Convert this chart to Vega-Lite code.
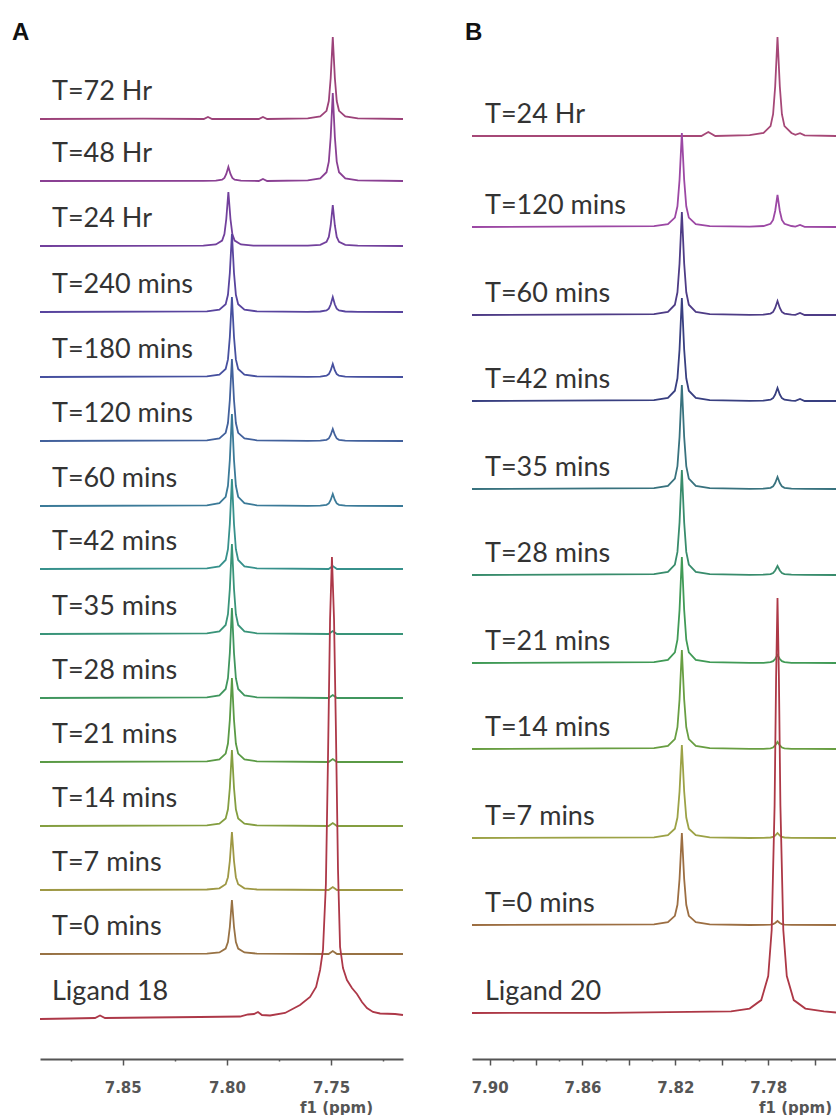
{
"$schema": "https://vega.github.io/schema/vega-lite/v6.json",
"background": "white",
"padding": {"left": 12, "top": 21, "right": 0, "bottom": 0},
"spacing": 69,
"bounds": "flush",
"config": {"view": {"stroke": null}},
"resolve": {"scale": {"x": "independent", "y": "independent", "color": "independent"}},
"datasets": {
"A": [
{"t":"T=72 Hr","x":7.8897,"y":940},{"t":"T=72 Hr","x":7.8400,"y":940.3},{"t":"T=72 Hr","x":7.8111,"y":940},{"t":"T=72 Hr","x":7.8091,"y":942},{"t":"T=72 Hr","x":7.8071,"y":940},{"t":"T=72 Hr","x":7.7847,"y":940},{"t":"T=72 Hr","x":7.7827,"y":942},{"t":"T=72 Hr","x":7.7807,"y":940},
{"t":"T=72 Hr","x":7.7612,"y":940.7},{"t":"T=72 Hr","x":7.7552,"y":942.5},{"t":"T=72 Hr","x":7.7522,"y":948.2},{"t":"T=72 Hr","x":7.7511,"y":958},{"t":"T=72 Hr","x":7.7502,"y":981},{"t":"T=72 Hr","x":7.7492,"y":1022},{"t":"T=72 Hr","x":7.7482,"y":981},{"t":"T=72 Hr","x":7.7473,"y":958},{"t":"T=72 Hr","x":7.7462,"y":948.2},{"t":"T=72 Hr","x":7.7432,"y":942.5},{"t":"T=72 Hr","x":7.7372,"y":940.7},{"t":"T=72 Hr","x":7.7155,"y":940},

{"t":"T=48 Hr","x":7.8897,"y":878},{"t":"T=48 Hr","x":7.8113,"y":878.1},{"t":"T=48 Hr","x":7.8053,"y":878.4},{"t":"T=48 Hr","x":7.8023,"y":879.4},{"t":"T=48 Hr","x":7.8012,"y":881.1},{"t":"T=48 Hr","x":7.8003,"y":885},{"t":"T=48 Hr","x":7.7993,"y":892},{"t":"T=48 Hr","x":7.7983,"y":885},{"t":"T=48 Hr","x":7.7974,"y":881.1},{"t":"T=48 Hr","x":7.7963,"y":879.4},{"t":"T=48 Hr","x":7.7933,"y":878.4},{"t":"T=48 Hr","x":7.7873,"y":878.1},{"t":"T=48 Hr","x":7.7847,"y":878},{"t":"T=48 Hr","x":7.7827,"y":880},{"t":"T=48 Hr","x":7.7807,"y":878},
{"t":"T=48 Hr","x":7.7612,"y":878.7},{"t":"T=48 Hr","x":7.7552,"y":880.6},{"t":"T=48 Hr","x":7.7522,"y":886.8},{"t":"T=48 Hr","x":7.7511,"y":897.4},{"t":"T=48 Hr","x":7.7502,"y":922},{"t":"T=48 Hr","x":7.7492,"y":966},{"t":"T=48 Hr","x":7.7482,"y":922},{"t":"T=48 Hr","x":7.7473,"y":897.4},{"t":"T=48 Hr","x":7.7462,"y":886.8},{"t":"T=48 Hr","x":7.7432,"y":880.6},{"t":"T=48 Hr","x":7.7372,"y":878.7},{"t":"T=48 Hr","x":7.7155,"y":878},

{"t":"T=24 Hr","x":7.8897,"y":813},{"t":"T=24 Hr","x":7.8113,"y":813.4},{"t":"T=24 Hr","x":7.8053,"y":814.6},{"t":"T=24 Hr","x":7.8023,"y":818.4},{"t":"T=24 Hr","x":7.8012,"y":824.9},{"t":"T=24 Hr","x":7.8003,"y":840},{"t":"T=24 Hr","x":7.7993,"y":867},{"t":"T=24 Hr","x":7.7983,"y":840},{"t":"T=24 Hr","x":7.7974,"y":824.9},{"t":"T=24 Hr","x":7.7963,"y":818.4},{"t":"T=24 Hr","x":7.7933,"y":814.6},{"t":"T=24 Hr","x":7.7873,"y":813.4},
{"t":"T=24 Hr","x":7.7612,"y":813.3},{"t":"T=24 Hr","x":7.7552,"y":814.2},{"t":"T=24 Hr","x":7.7522,"y":817.1},{"t":"T=24 Hr","x":7.7511,"y":822},{"t":"T=24 Hr","x":7.7502,"y":833.5},{"t":"T=24 Hr","x":7.7492,"y":854},{"t":"T=24 Hr","x":7.7482,"y":833.5},{"t":"T=24 Hr","x":7.7473,"y":822},{"t":"T=24 Hr","x":7.7462,"y":817.1},{"t":"T=24 Hr","x":7.7432,"y":814.2},{"t":"T=24 Hr","x":7.7372,"y":813.3},{"t":"T=24 Hr","x":7.7155,"y":813},

{"t":"T=240 mins","x":7.8897,"y":747},{"t":"T=240 mins","x":7.8096,"y":747.6},{"t":"T=240 mins","x":7.8036,"y":749.3},{"t":"T=240 mins","x":7.8006,"y":754.8},{"t":"T=240 mins","x":7.7995,"y":764.2},{"t":"T=240 mins","x":7.7986,"y":786},{"t":"T=240 mins","x":7.7976,"y":825},{"t":"T=240 mins","x":7.7966,"y":786},{"t":"T=240 mins","x":7.7957,"y":764.2},{"t":"T=240 mins","x":7.7946,"y":754.8},{"t":"T=240 mins","x":7.7916,"y":749.3},{"t":"T=240 mins","x":7.7856,"y":747.6},
{"t":"T=240 mins","x":7.7612,"y":747.1},{"t":"T=240 mins","x":7.7552,"y":747.5},{"t":"T=240 mins","x":7.7522,"y":748.5},{"t":"T=240 mins","x":7.7511,"y":750.3},{"t":"T=240 mins","x":7.7502,"y":754.5},{"t":"T=240 mins","x":7.7492,"y":762},{"t":"T=240 mins","x":7.7482,"y":754.5},{"t":"T=240 mins","x":7.7473,"y":750.3},{"t":"T=240 mins","x":7.7462,"y":748.5},{"t":"T=240 mins","x":7.7432,"y":747.5},{"t":"T=240 mins","x":7.7372,"y":747.1},{"t":"T=240 mins","x":7.7155,"y":747},

{"t":"T=180 mins","x":7.8897,"y":682},{"t":"T=180 mins","x":7.8096,"y":682.6},{"t":"T=180 mins","x":7.8036,"y":684.4},{"t":"T=180 mins","x":7.8006,"y":690},{"t":"T=180 mins","x":7.7995,"y":699.6},{"t":"T=180 mins","x":7.7986,"y":722},{"t":"T=180 mins","x":7.7976,"y":762},{"t":"T=180 mins","x":7.7966,"y":722},{"t":"T=180 mins","x":7.7957,"y":699.6},{"t":"T=180 mins","x":7.7946,"y":690},{"t":"T=180 mins","x":7.7916,"y":684.4},{"t":"T=180 mins","x":7.7856,"y":682.6},
{"t":"T=180 mins","x":7.7612,"y":682.1},{"t":"T=180 mins","x":7.7552,"y":682.4},{"t":"T=180 mins","x":7.7522,"y":683.3},{"t":"T=180 mins","x":7.7511,"y":684.9},{"t":"T=180 mins","x":7.7502,"y":688.5},{"t":"T=180 mins","x":7.7492,"y":695},{"t":"T=180 mins","x":7.7482,"y":688.5},{"t":"T=180 mins","x":7.7473,"y":684.9},{"t":"T=180 mins","x":7.7462,"y":683.3},{"t":"T=180 mins","x":7.7432,"y":682.4},{"t":"T=180 mins","x":7.7372,"y":682.1},{"t":"T=180 mins","x":7.7155,"y":682},

{"t":"T=120 mins","x":7.8897,"y":618},{"t":"T=120 mins","x":7.8096,"y":618.7},{"t":"T=120 mins","x":7.8036,"y":620.5},{"t":"T=120 mins","x":7.8006,"y":626.2},{"t":"T=120 mins","x":7.7995,"y":636},{"t":"T=120 mins","x":7.7986,"y":659},{"t":"T=120 mins","x":7.7976,"y":700},{"t":"T=120 mins","x":7.7966,"y":659},{"t":"T=120 mins","x":7.7957,"y":636},{"t":"T=120 mins","x":7.7946,"y":626.2},{"t":"T=120 mins","x":7.7916,"y":620.5},{"t":"T=120 mins","x":7.7856,"y":618.7},
{"t":"T=120 mins","x":7.7612,"y":618.1},{"t":"T=120 mins","x":7.7552,"y":618.4},{"t":"T=120 mins","x":7.7522,"y":619.2},{"t":"T=120 mins","x":7.7511,"y":620.6},{"t":"T=120 mins","x":7.7502,"y":624},{"t":"T=120 mins","x":7.7492,"y":630},{"t":"T=120 mins","x":7.7482,"y":624},{"t":"T=120 mins","x":7.7473,"y":620.6},{"t":"T=120 mins","x":7.7462,"y":619.2},{"t":"T=120 mins","x":7.7432,"y":618.4},{"t":"T=120 mins","x":7.7372,"y":618.1},{"t":"T=120 mins","x":7.7155,"y":618},

{"t":"T=60 mins","x":7.8897,"y":553},{"t":"T=60 mins","x":7.8096,"y":553.7},{"t":"T=60 mins","x":7.8036,"y":555.8},{"t":"T=60 mins","x":7.8006,"y":562.2},{"t":"T=60 mins","x":7.7995,"y":573.2},{"t":"T=60 mins","x":7.7986,"y":599},{"t":"T=60 mins","x":7.7976,"y":645},{"t":"T=60 mins","x":7.7966,"y":599},{"t":"T=60 mins","x":7.7957,"y":573.2},{"t":"T=60 mins","x":7.7946,"y":562.2},{"t":"T=60 mins","x":7.7916,"y":555.8},{"t":"T=60 mins","x":7.7856,"y":553.7},
{"t":"T=60 mins","x":7.7612,"y":553.1},{"t":"T=60 mins","x":7.7552,"y":553.4},{"t":"T=60 mins","x":7.7522,"y":554.2},{"t":"T=60 mins","x":7.7511,"y":555.6},{"t":"T=60 mins","x":7.7502,"y":559},{"t":"T=60 mins","x":7.7492,"y":565},{"t":"T=60 mins","x":7.7482,"y":559},{"t":"T=60 mins","x":7.7473,"y":555.6},{"t":"T=60 mins","x":7.7462,"y":554.2},{"t":"T=60 mins","x":7.7432,"y":553.4},{"t":"T=60 mins","x":7.7372,"y":553.1},{"t":"T=60 mins","x":7.7155,"y":553},

{"t":"T=42 mins","x":7.8897,"y":490},{"t":"T=42 mins","x":7.8096,"y":490.7},{"t":"T=42 mins","x":7.8036,"y":492.7},{"t":"T=42 mins","x":7.8006,"y":499},{"t":"T=42 mins","x":7.7995,"y":509.8},{"t":"T=42 mins","x":7.7986,"y":535},{"t":"T=42 mins","x":7.7976,"y":580},{"t":"T=42 mins","x":7.7966,"y":535},{"t":"T=42 mins","x":7.7957,"y":509.8},{"t":"T=42 mins","x":7.7946,"y":499},{"t":"T=42 mins","x":7.7916,"y":492.7},{"t":"T=42 mins","x":7.7856,"y":490.7},{"t":"T=42 mins","x":7.7512,"y":490},{"t":"T=42 mins","x":7.7492,"y":493},{"t":"T=42 mins","x":7.7472,"y":490},{"t":"T=42 mins","x":7.7155,"y":490},

{"t":"T=35 mins","x":7.8897,"y":425},{"t":"T=35 mins","x":7.8096,"y":425.7},{"t":"T=35 mins","x":7.8036,"y":427.7},{"t":"T=35 mins","x":7.8006,"y":434},{"t":"T=35 mins","x":7.7995,"y":444.8},{"t":"T=35 mins","x":7.7986,"y":470},{"t":"T=35 mins","x":7.7976,"y":515},{"t":"T=35 mins","x":7.7966,"y":470},{"t":"T=35 mins","x":7.7957,"y":444.8},{"t":"T=35 mins","x":7.7946,"y":434},{"t":"T=35 mins","x":7.7916,"y":427.7},{"t":"T=35 mins","x":7.7856,"y":425.7},{"t":"T=35 mins","x":7.7512,"y":425},{"t":"T=35 mins","x":7.7492,"y":428},{"t":"T=35 mins","x":7.7472,"y":425},{"t":"T=35 mins","x":7.7155,"y":425},

{"t":"T=28 mins","x":7.8897,"y":361},{"t":"T=28 mins","x":7.8096,"y":361.7},{"t":"T=28 mins","x":7.8036,"y":363.7},{"t":"T=28 mins","x":7.8006,"y":370},{"t":"T=28 mins","x":7.7995,"y":380.8},{"t":"T=28 mins","x":7.7986,"y":406},{"t":"T=28 mins","x":7.7976,"y":451},{"t":"T=28 mins","x":7.7966,"y":406},{"t":"T=28 mins","x":7.7957,"y":380.8},{"t":"T=28 mins","x":7.7946,"y":370},{"t":"T=28 mins","x":7.7916,"y":363.7},{"t":"T=28 mins","x":7.7856,"y":361.7},{"t":"T=28 mins","x":7.7512,"y":361},{"t":"T=28 mins","x":7.7492,"y":364},{"t":"T=28 mins","x":7.7472,"y":361},{"t":"T=28 mins","x":7.7155,"y":361},

{"t":"T=21 mins","x":7.8897,"y":297},{"t":"T=21 mins","x":7.8096,"y":297.7},{"t":"T=21 mins","x":7.8036,"y":299.5},{"t":"T=21 mins","x":7.8006,"y":305.4},{"t":"T=21 mins","x":7.7995,"y":315.5},{"t":"T=21 mins","x":7.7986,"y":339},{"t":"T=21 mins","x":7.7976,"y":381},{"t":"T=21 mins","x":7.7966,"y":339},{"t":"T=21 mins","x":7.7957,"y":315.5},{"t":"T=21 mins","x":7.7946,"y":305.4},{"t":"T=21 mins","x":7.7916,"y":299.5},{"t":"T=21 mins","x":7.7856,"y":297.7},{"t":"T=21 mins","x":7.7512,"y":297},{"t":"T=21 mins","x":7.7492,"y":300},{"t":"T=21 mins","x":7.7472,"y":297},{"t":"T=21 mins","x":7.7155,"y":297},

{"t":"T=14 mins","x":7.8897,"y":233},{"t":"T=14 mins","x":7.8096,"y":233.6},{"t":"T=14 mins","x":7.8036,"y":235.3},{"t":"T=14 mins","x":7.8006,"y":240.6},{"t":"T=14 mins","x":7.7995,"y":249.7},{"t":"T=14 mins","x":7.7986,"y":271},{"t":"T=14 mins","x":7.7976,"y":309},{"t":"T=14 mins","x":7.7966,"y":271},{"t":"T=14 mins","x":7.7957,"y":249.7},{"t":"T=14 mins","x":7.7946,"y":240.6},{"t":"T=14 mins","x":7.7916,"y":235.3},{"t":"T=14 mins","x":7.7856,"y":233.6},{"t":"T=14 mins","x":7.7512,"y":233},{"t":"T=14 mins","x":7.7492,"y":236},{"t":"T=14 mins","x":7.7472,"y":233},{"t":"T=14 mins","x":7.7155,"y":233},

{"t":"T=7 mins","x":7.8897,"y":169},{"t":"T=7 mins","x":7.8096,"y":169.5},{"t":"T=7 mins","x":7.8036,"y":170.7},{"t":"T=7 mins","x":7.8006,"y":174.8},{"t":"T=7 mins","x":7.7995,"y":181.8},{"t":"T=7 mins","x":7.7986,"y":198},{"t":"T=7 mins","x":7.7976,"y":227},{"t":"T=7 mins","x":7.7966,"y":198},{"t":"T=7 mins","x":7.7957,"y":181.8},{"t":"T=7 mins","x":7.7946,"y":174.8},{"t":"T=7 mins","x":7.7916,"y":170.7},{"t":"T=7 mins","x":7.7856,"y":169.5},{"t":"T=7 mins","x":7.7512,"y":169},{"t":"T=7 mins","x":7.7492,"y":172},{"t":"T=7 mins","x":7.7472,"y":169},{"t":"T=7 mins","x":7.7155,"y":169},

{"t":"T=0 mins","x":7.8897,"y":105},{"t":"T=0 mins","x":7.8096,"y":105.4},{"t":"T=0 mins","x":7.8036,"y":106.6},{"t":"T=0 mins","x":7.8006,"y":110.4},{"t":"T=0 mins","x":7.7995,"y":116.9},{"t":"T=0 mins","x":7.7986,"y":132},{"t":"T=0 mins","x":7.7976,"y":159},{"t":"T=0 mins","x":7.7966,"y":132},{"t":"T=0 mins","x":7.7957,"y":116.9},{"t":"T=0 mins","x":7.7946,"y":110.4},{"t":"T=0 mins","x":7.7916,"y":106.6},{"t":"T=0 mins","x":7.7856,"y":105.4},{"t":"T=0 mins","x":7.7512,"y":105},{"t":"T=0 mins","x":7.7492,"y":108},{"t":"T=0 mins","x":7.7472,"y":105},{"t":"T=0 mins","x":7.7155,"y":105},

{"t":"Ligand 18","x":7.8897,"y":40},{"t":"Ligand 18","x":7.8753,"y":40.5},{"t":"Ligand 18","x":7.8633,"y":41},{"t":"Ligand 18","x":7.8609,"y":43.5},{"t":"Ligand 18","x":7.8585,"y":41},{"t":"Ligand 18","x":7.8369,"y":41.5},{"t":"Ligand 18","x":7.8129,"y":42},{"t":"Ligand 18","x":7.7937,"y":42.5},{"t":"Ligand 18","x":7.7899,"y":44.5},{"t":"Ligand 18","x":7.7870,"y":45},{"t":"Ligand 18","x":7.7851,"y":47},{"t":"Ligand 18","x":7.7832,"y":44},{"t":"Ligand 18","x":7.7793,"y":43.5},{"t":"Ligand 18","x":7.7721,"y":46},{"t":"Ligand 18","x":7.7649,"y":54},{"t":"Ligand 18","x":7.7601,"y":62},{"t":"Ligand 18","x":7.7572,"y":72},{"t":"Ligand 18","x":7.7553,"y":89},{"t":"Ligand 18","x":7.7539,"y":109},{"t":"Ligand 18","x":7.7525,"y":175},{"t":"Ligand 18","x":7.7515,"y":300},{"t":"Ligand 18","x":7.7505,"y":440},{"t":"Ligand 18","x":7.7496,"y":502},{"t":"Ligand 18","x":7.7486,"y":440},{"t":"Ligand 18","x":7.7477,"y":330},{"t":"Ligand 18","x":7.7467,"y":190},{"t":"Ligand 18","x":7.7457,"y":112},{"t":"Ligand 18","x":7.7443,"y":91},{"t":"Ligand 18","x":7.7424,"y":79},{"t":"Ligand 18","x":7.7400,"y":71},{"t":"Ligand 18","x":7.7376,"y":65},{"t":"Ligand 18","x":7.7352,"y":57},{"t":"Ligand 18","x":7.7328,"y":51},{"t":"Ligand 18","x":7.7299,"y":47},{"t":"Ligand 18","x":7.7265,"y":45.5},{"t":"Ligand 18","x":7.7193,"y":45},{"t":"Ligand 18","x":7.7155,"y":44}
],
"B": [
{"t":"T=24 Hr","x":7.9076,"y":923},{"t":"T=24 Hr","x":7.8088,"y":923},{"t":"T=24 Hr","x":7.8058,"y":927},{"t":"T=24 Hr","x":7.8028,"y":923},{"t":"T=24 Hr","x":7.7880,"y":923.8},{"t":"T=24 Hr","x":7.7820,"y":926},{"t":"T=24 Hr","x":7.7790,"y":932.9},{"t":"T=24 Hr","x":7.7779,"y":944.8},{"t":"T=24 Hr","x":7.7770,"y":972.5},{"t":"T=24 Hr","x":7.7760,"y":1022},{"t":"T=24 Hr","x":7.7750,"y":972.5},{"t":"T=24 Hr","x":7.7741,"y":944.8},{"t":"T=24 Hr","x":7.7730,"y":932.9},{"t":"T=24 Hr","x":7.7700,"y":926},{"t":"T=24 Hr","x":7.7683,"y":924.2},{"t":"T=24 Hr","x":7.7663,"y":925.8},{"t":"T=24 Hr","x":7.7643,"y":923.6},{"t":"T=24 Hr","x":7.7508,"y":923},

{"t":"T=120 mins","x":7.9076,"y":832},{"t":"T=120 mins","x":7.8292,"y":832.8},{"t":"T=120 mins","x":7.8232,"y":834.8},{"t":"T=120 mins","x":7.8202,"y":841.4},{"t":"T=120 mins","x":7.8191,"y":852.7},{"t":"T=120 mins","x":7.8182,"y":879},{"t":"T=120 mins","x":7.8172,"y":926},{"t":"T=120 mins","x":7.8162,"y":879},{"t":"T=120 mins","x":7.8153,"y":852.7},{"t":"T=120 mins","x":7.8142,"y":841.4},{"t":"T=120 mins","x":7.8112,"y":834.8},{"t":"T=120 mins","x":7.8052,"y":832.8},
{"t":"T=120 mins","x":7.7880,"y":832.3},{"t":"T=120 mins","x":7.7820,"y":833},{"t":"T=120 mins","x":7.7790,"y":835.2},{"t":"T=120 mins","x":7.7779,"y":839},{"t":"T=120 mins","x":7.7770,"y":848},{"t":"T=120 mins","x":7.7760,"y":864},{"t":"T=120 mins","x":7.7750,"y":848},{"t":"T=120 mins","x":7.7741,"y":839},{"t":"T=120 mins","x":7.7730,"y":835.2},{"t":"T=120 mins","x":7.7700,"y":833},{"t":"T=120 mins","x":7.7683,"y":832.4},{"t":"T=120 mins","x":7.7663,"y":834},{"t":"T=120 mins","x":7.7643,"y":832.2},{"t":"T=120 mins","x":7.7508,"y":832},

{"t":"T=60 mins","x":7.9076,"y":744},{"t":"T=60 mins","x":7.8292,"y":744.8},{"t":"T=60 mins","x":7.8232,"y":747.1},{"t":"T=60 mins","x":7.8202,"y":754.3},{"t":"T=60 mins","x":7.8191,"y":766.7},{"t":"T=60 mins","x":7.8182,"y":795.5},{"t":"T=60 mins","x":7.8172,"y":847},{"t":"T=60 mins","x":7.8162,"y":795.5},{"t":"T=60 mins","x":7.8153,"y":766.7},{"t":"T=60 mins","x":7.8142,"y":754.3},{"t":"T=60 mins","x":7.8112,"y":747.1},{"t":"T=60 mins","x":7.8052,"y":744.8},
{"t":"T=60 mins","x":7.7880,"y":744.1},{"t":"T=60 mins","x":7.7820,"y":744.4},{"t":"T=60 mins","x":7.7790,"y":745.4},{"t":"T=60 mins","x":7.7779,"y":747.1},{"t":"T=60 mins","x":7.7770,"y":751},{"t":"T=60 mins","x":7.7760,"y":758},{"t":"T=60 mins","x":7.7750,"y":751},{"t":"T=60 mins","x":7.7741,"y":747.1},{"t":"T=60 mins","x":7.7730,"y":745.4},{"t":"T=60 mins","x":7.7700,"y":744.4},{"t":"T=60 mins","x":7.7683,"y":744.1},{"t":"T=60 mins","x":7.7663,"y":746},{"t":"T=60 mins","x":7.7643,"y":744},{"t":"T=60 mins","x":7.7508,"y":744},

{"t":"T=42 mins","x":7.9076,"y":658},{"t":"T=42 mins","x":7.8292,"y":658.8},{"t":"T=42 mins","x":7.8232,"y":661.1},{"t":"T=42 mins","x":7.8202,"y":668.3},{"t":"T=42 mins","x":7.8191,"y":680.7},{"t":"T=42 mins","x":7.8182,"y":709.5},{"t":"T=42 mins","x":7.8172,"y":761},{"t":"T=42 mins","x":7.8162,"y":709.5},{"t":"T=42 mins","x":7.8153,"y":680.7},{"t":"T=42 mins","x":7.8142,"y":668.3},{"t":"T=42 mins","x":7.8112,"y":661.1},{"t":"T=42 mins","x":7.8052,"y":658.8},
{"t":"T=42 mins","x":7.7880,"y":658.1},{"t":"T=42 mins","x":7.7820,"y":658.4},{"t":"T=42 mins","x":7.7790,"y":659.3},{"t":"T=42 mins","x":7.7779,"y":660.9},{"t":"T=42 mins","x":7.7770,"y":664.5},{"t":"T=42 mins","x":7.7760,"y":671},{"t":"T=42 mins","x":7.7750,"y":664.5},{"t":"T=42 mins","x":7.7741,"y":660.9},{"t":"T=42 mins","x":7.7730,"y":659.3},{"t":"T=42 mins","x":7.7700,"y":658.4},{"t":"T=42 mins","x":7.7683,"y":658.1},{"t":"T=42 mins","x":7.7663,"y":660},{"t":"T=42 mins","x":7.7643,"y":658},{"t":"T=42 mins","x":7.7508,"y":658},

{"t":"T=35 mins","x":7.9076,"y":570},{"t":"T=35 mins","x":7.8292,"y":570.8},{"t":"T=35 mins","x":7.8232,"y":573.1},{"t":"T=35 mins","x":7.8202,"y":580.4},{"t":"T=35 mins","x":7.8191,"y":592.9},{"t":"T=35 mins","x":7.8182,"y":622},{"t":"T=35 mins","x":7.8172,"y":674},{"t":"T=35 mins","x":7.8162,"y":622},{"t":"T=35 mins","x":7.8153,"y":592.9},{"t":"T=35 mins","x":7.8142,"y":580.4},{"t":"T=35 mins","x":7.8112,"y":573.1},{"t":"T=35 mins","x":7.8052,"y":570.8},
{"t":"T=35 mins","x":7.7880,"y":570.1},{"t":"T=35 mins","x":7.7820,"y":570.4},{"t":"T=35 mins","x":7.7790,"y":571.2},{"t":"T=35 mins","x":7.7779,"y":572.6},{"t":"T=35 mins","x":7.7770,"y":576},{"t":"T=35 mins","x":7.7760,"y":582},{"t":"T=35 mins","x":7.7750,"y":576},{"t":"T=35 mins","x":7.7741,"y":572.6},{"t":"T=35 mins","x":7.7730,"y":571.2},{"t":"T=35 mins","x":7.7700,"y":570.4},{"t":"T=35 mins","x":7.7640,"y":570.1},{"t":"T=35 mins","x":7.7508,"y":570},

{"t":"T=28 mins","x":7.9076,"y":484},{"t":"T=28 mins","x":7.8292,"y":484.8},{"t":"T=28 mins","x":7.8232,"y":487.2},{"t":"T=28 mins","x":7.8202,"y":494.5},{"t":"T=28 mins","x":7.8191,"y":507.1},{"t":"T=28 mins","x":7.8182,"y":536.5},{"t":"T=28 mins","x":7.8172,"y":589},{"t":"T=28 mins","x":7.8162,"y":536.5},{"t":"T=28 mins","x":7.8153,"y":507.1},{"t":"T=28 mins","x":7.8142,"y":494.5},{"t":"T=28 mins","x":7.8112,"y":487.2},{"t":"T=28 mins","x":7.8052,"y":484.8},
{"t":"T=28 mins","x":7.7880,"y":484.1},{"t":"T=28 mins","x":7.7820,"y":484.3},{"t":"T=28 mins","x":7.7790,"y":484.9},{"t":"T=28 mins","x":7.7779,"y":486},{"t":"T=28 mins","x":7.7770,"y":488.5},{"t":"T=28 mins","x":7.7760,"y":493},{"t":"T=28 mins","x":7.7750,"y":488.5},{"t":"T=28 mins","x":7.7741,"y":486},{"t":"T=28 mins","x":7.7730,"y":484.9},{"t":"T=28 mins","x":7.7700,"y":484.3},{"t":"T=28 mins","x":7.7640,"y":484.1},{"t":"T=28 mins","x":7.7508,"y":484},

{"t":"T=21 mins","x":7.9076,"y":396},{"t":"T=21 mins","x":7.8292,"y":396.8},{"t":"T=21 mins","x":7.8232,"y":399.2},{"t":"T=21 mins","x":7.8202,"y":406.6},{"t":"T=21 mins","x":7.8191,"y":419.3},{"t":"T=21 mins","x":7.8182,"y":449},{"t":"T=21 mins","x":7.8172,"y":502},{"t":"T=21 mins","x":7.8162,"y":449},{"t":"T=21 mins","x":7.8153,"y":419.3},{"t":"T=21 mins","x":7.8142,"y":406.6},{"t":"T=21 mins","x":7.8112,"y":399.2},{"t":"T=21 mins","x":7.8052,"y":396.8},
{"t":"T=21 mins","x":7.7880,"y":396.1},{"t":"T=21 mins","x":7.7820,"y":396.2},{"t":"T=21 mins","x":7.7790,"y":396.8},{"t":"T=21 mins","x":7.7779,"y":397.8},{"t":"T=21 mins","x":7.7770,"y":400},{"t":"T=21 mins","x":7.7760,"y":404},{"t":"T=21 mins","x":7.7750,"y":400},{"t":"T=21 mins","x":7.7741,"y":397.8},{"t":"T=21 mins","x":7.7730,"y":396.8},{"t":"T=21 mins","x":7.7700,"y":396.2},{"t":"T=21 mins","x":7.7640,"y":396.1},{"t":"T=21 mins","x":7.7508,"y":396},

{"t":"T=14 mins","x":7.9076,"y":310},{"t":"T=14 mins","x":7.8292,"y":310.8},{"t":"T=14 mins","x":7.8232,"y":313},{"t":"T=14 mins","x":7.8202,"y":319.9},{"t":"T=14 mins","x":7.8191,"y":331.8},{"t":"T=14 mins","x":7.8182,"y":359.5},{"t":"T=14 mins","x":7.8172,"y":409},{"t":"T=14 mins","x":7.8162,"y":359.5},{"t":"T=14 mins","x":7.8153,"y":331.8},{"t":"T=14 mins","x":7.8142,"y":319.9},{"t":"T=14 mins","x":7.8112,"y":313},{"t":"T=14 mins","x":7.8052,"y":310.8},
{"t":"T=14 mins","x":7.7880,"y":310.1},{"t":"T=14 mins","x":7.7820,"y":310.2},{"t":"T=14 mins","x":7.7790,"y":310.7},{"t":"T=14 mins","x":7.7779,"y":311.5},{"t":"T=14 mins","x":7.7770,"y":313.5},{"t":"T=14 mins","x":7.7760,"y":317},{"t":"T=14 mins","x":7.7750,"y":313.5},{"t":"T=14 mins","x":7.7741,"y":311.5},{"t":"T=14 mins","x":7.7730,"y":310.7},{"t":"T=14 mins","x":7.7700,"y":310.2},{"t":"T=14 mins","x":7.7640,"y":310.1},{"t":"T=14 mins","x":7.7508,"y":310},

{"t":"T=7 mins","x":7.9076,"y":221},{"t":"T=7 mins","x":7.8292,"y":221.7},{"t":"T=7 mins","x":7.8232,"y":223.8},{"t":"T=7 mins","x":7.8202,"y":230.3},{"t":"T=7 mins","x":7.8191,"y":241.5},{"t":"T=7 mins","x":7.8182,"y":267.5},{"t":"T=7 mins","x":7.8172,"y":314},{"t":"T=7 mins","x":7.8162,"y":267.5},{"t":"T=7 mins","x":7.8153,"y":241.5},{"t":"T=7 mins","x":7.8142,"y":230.3},{"t":"T=7 mins","x":7.8112,"y":223.8},{"t":"T=7 mins","x":7.8052,"y":221.7},
{"t":"T=7 mins","x":7.7880,"y":221},{"t":"T=7 mins","x":7.7820,"y":221.2},{"t":"T=7 mins","x":7.7790,"y":221.5},{"t":"T=7 mins","x":7.7779,"y":222.1},{"t":"T=7 mins","x":7.7770,"y":223.5},{"t":"T=7 mins","x":7.7760,"y":226},{"t":"T=7 mins","x":7.7750,"y":223.5},{"t":"T=7 mins","x":7.7741,"y":222.1},{"t":"T=7 mins","x":7.7730,"y":221.5},{"t":"T=7 mins","x":7.7700,"y":221.2},{"t":"T=7 mins","x":7.7508,"y":221},

{"t":"T=0 mins","x":7.9076,"y":134},{"t":"T=0 mins","x":7.8292,"y":134.7},{"t":"T=0 mins","x":7.8232,"y":136.8},{"t":"T=0 mins","x":7.8202,"y":143.2},{"t":"T=0 mins","x":7.8191,"y":154.2},{"t":"T=0 mins","x":7.8182,"y":180},{"t":"T=0 mins","x":7.8172,"y":226},{"t":"T=0 mins","x":7.8162,"y":180},{"t":"T=0 mins","x":7.8153,"y":154.2},{"t":"T=0 mins","x":7.8142,"y":143.2},{"t":"T=0 mins","x":7.8112,"y":136.8},{"t":"T=0 mins","x":7.8052,"y":134.7},
{"t":"T=0 mins","x":7.7880,"y":134},{"t":"T=0 mins","x":7.7820,"y":134.1},{"t":"T=0 mins","x":7.7790,"y":134.4},{"t":"T=0 mins","x":7.7779,"y":134.9},{"t":"T=0 mins","x":7.7770,"y":136},{"t":"T=0 mins","x":7.7760,"y":138},{"t":"T=0 mins","x":7.7750,"y":136},{"t":"T=0 mins","x":7.7741,"y":134.9},{"t":"T=0 mins","x":7.7730,"y":134.4},{"t":"T=0 mins","x":7.7700,"y":134.1},{"t":"T=0 mins","x":7.7508,"y":134},

{"t":"Ligand 20","x":7.9076,"y":46},{"t":"Ligand 20","x":7.8500,"y":46.2},{"t":"Ligand 20","x":7.7960,"y":47.6},{"t":"Ligand 20","x":7.7880,"y":50.4},{"t":"Ligand 20","x":7.7830,"y":58.9},{"t":"Ligand 20","x":7.7800,"y":82.9},{"t":"Ligand 20","x":7.7785,"y":129},{"t":"Ligand 20","x":7.77725,"y":253.5},{"t":"Ligand 20","x":7.7766,"y":382},{"t":"Ligand 20","x":7.7760,"y":461},{"t":"Ligand 20","x":7.7754,"y":382},{"t":"Ligand 20","x":7.77475,"y":253.5},{"t":"Ligand 20","x":7.7735,"y":129},{"t":"Ligand 20","x":7.7720,"y":82.9},{"t":"Ligand 20","x":7.7690,"y":58.9},{"t":"Ligand 20","x":7.7640,"y":50.4},{"t":"Ligand 20","x":7.7560,"y":47.6},{"t":"Ligand 20","x":7.7508,"y":46.5}
]
},
"hconcat": [
{
"width": 363, "height": 1012,
"title": {"text": "A", "anchor": "start", "frame": "group", "dx": -28, "offset": -12, "font": "Liberation Sans", "fontSize": 24, "fontWeight": "bold", "color": "#111"},
"data": {"name": "A"},
"encoding": {
"x": {"field": "x", "type": "quantitative",
"scale": {"domain": [7.7155, 7.8897], "reverse": true, "nice": false, "zero": false},
"axis": {"values": [7.875, 7.85, 7.825, 7.8, 7.775, 7.75, 7.725],
"labelExpr": "indexof([7.85, 7.8, 7.75], datum.value) >= 0 ? format(datum.value, '.2f') : ''",
"tickSize": {"condition": {"test": "indexof([7.85, 7.8, 7.75], datum.value) >= 0", "value": 6}, "value": 2},
"tickWidth": 1.5, "tickColor": "#555", "domainColor": "#555", "domainWidth": 2, "grid": false,
"labelFont": "DejaVu Sans", "labelFontSize": 15, "labelFontWeight": "bold", "labelColor": "#555", "labelPadding": 15, "labelFlush": false, "labelOverlap": false,
"title": "f1 (ppm)", "titleX": 296, "titleY": 48, "titleAlign": "center", "titleBaseline": "middle", "titleFont": "DejaVu Sans", "titleFontSize": 15, "titleFontWeight": "bold", "titleColor": "#555"}},
"y": {"field": "y", "type": "quantitative", "scale": {"domain": [0, 1012], "nice": false, "zero": false}, "axis": null}
},
"layer": [
{"mark": {"type": "line", "strokeWidth": 1.8, "interpolate": "linear"},
"encoding": {"color": {"field": "t", "type": "nominal", "legend": null,
"scale": {"domain": ["T=72 Hr","T=48 Hr","T=24 Hr","T=240 mins","T=180 mins","T=120 mins","T=60 mins","T=42 mins","T=35 mins","T=28 mins","T=21 mins","T=14 mins","T=7 mins","T=0 mins","Ligand 18"],
"range": ["#9c4279","#8a4093","#72409c","#58449e","#46509f","#42619c","#3b7a98","#37918c","#399479","#40965e","#5a9a45","#849e40","#9e9844","#987244","#ad3848"]}}}},
{"transform": [{"joinaggregate": [{"op": "max", "field": "x", "as": "xmax"}], "groupby": ["t"]}, {"filter": "datum.x == datum.xmax"}],
"mark": {"type": "text", "align": "left", "baseline": "alphabetic", "dx": 12, "dy": -19, "font": "Lato", "fontSize": 27, "color": "#333"},
"encoding": {"text": {"field": "t"}}}
]
},
{
"width": 364, "height": 1012,
"title": {"text": "B", "anchor": "start", "frame": "group", "dx": -7, "offset": -12, "font": "Liberation Sans", "fontSize": 24, "fontWeight": "bold", "color": "#111"},
"data": {"name": "B"},
"encoding": {
"x": {"field": "x", "type": "quantitative",
"scale": {"domain": [7.7508, 7.9076], "reverse": true, "nice": false, "zero": false},
"axis": {"values": [7.9, 7.89, 7.88, 7.87, 7.86, 7.85, 7.84, 7.83, 7.82, 7.81, 7.8, 7.79, 7.78, 7.77, 7.76],
"labelExpr": "indexof([7.9, 7.86, 7.82, 7.78], datum.value) >= 0 ? format(datum.value, '.2f') : ''",
"tickSize": {"condition": {"test": "indexof([7.9, 7.88, 7.86, 7.84, 7.82, 7.8, 7.78, 7.76], datum.value) >= 0", "value": 6}, "value": 2},
"tickWidth": 1.5, "tickColor": "#555", "domainColor": "#555", "domainWidth": 2, "grid": false,
"labelFont": "DejaVu Sans", "labelFontSize": 15, "labelFontWeight": "bold", "labelColor": "#555", "labelPadding": 15, "labelFlush": false, "labelOverlap": false,
"title": "f1 (ppm)", "titleX": 323, "titleY": 48, "titleAlign": "center", "titleBaseline": "middle", "titleFont": "DejaVu Sans", "titleFontSize": 15, "titleFontWeight": "bold", "titleColor": "#555"}},
"y": {"field": "y", "type": "quantitative", "scale": {"domain": [0, 1012], "nice": false, "zero": false}, "axis": null}
},
"layer": [
{"mark": {"type": "line", "strokeWidth": 1.8, "interpolate": "linear"},
"encoding": {"color": {"field": "t", "type": "nominal", "legend": null,
"scale": {"domain": ["T=24 Hr","T=120 mins","T=60 mins","T=42 mins","T=35 mins","T=28 mins","T=21 mins","T=14 mins","T=7 mins","T=0 mins","Ligand 20"],
"range": ["#a64877","#9c48a4","#4e3c86","#383f80","#38727e","#388c6c","#409a56","#689e42","#9ca246","#9c6e42","#ad3846"]}}}},
{"transform": [{"joinaggregate": [{"op": "max", "field": "x", "as": "xmax"}], "groupby": ["t"]}, {"filter": "datum.x == datum.xmax"}],
"mark": {"type": "text", "align": "left", "baseline": "alphabetic", "dx": 13, "dy": -13, "font": "Lato", "fontSize": 27, "color": "#333"},
"encoding": {"text": {"field": "t"}}}
]
}
]
}
